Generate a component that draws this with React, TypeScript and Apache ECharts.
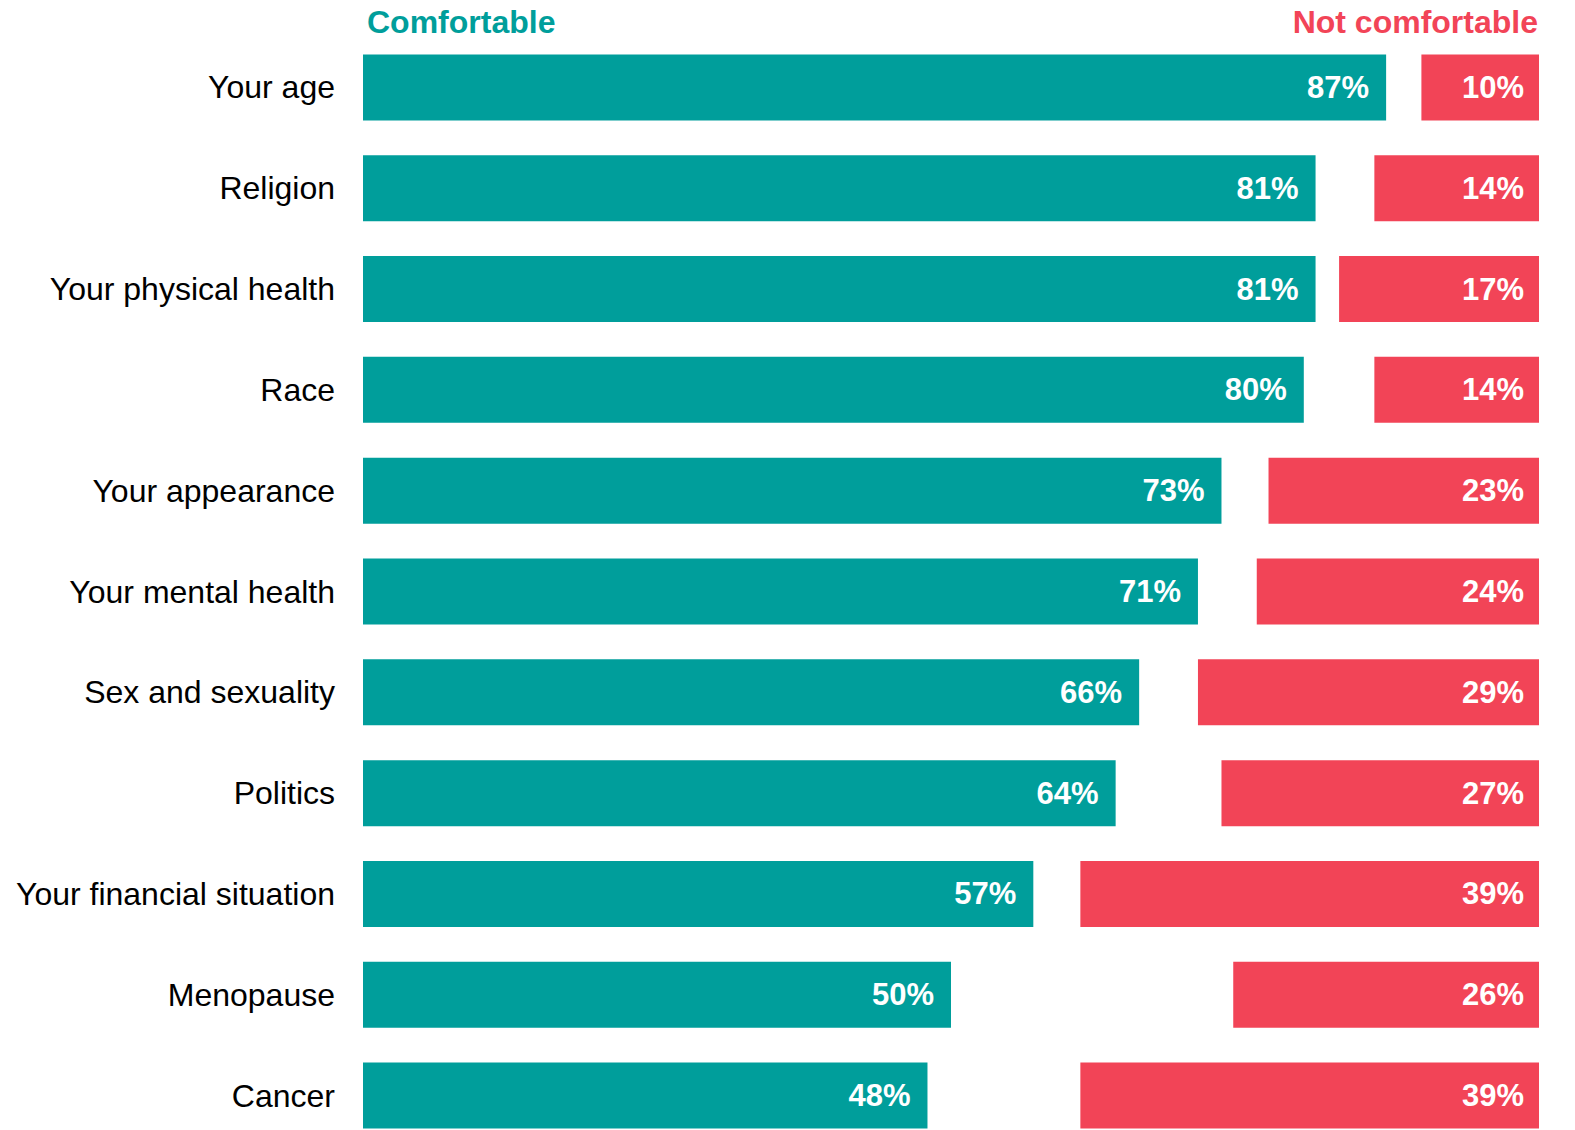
import React, { useEffect, useRef } from "react";
import * as echarts from "echarts";

const categories = [
  "Your age",
  "Religion",
  "Your physical health",
  "Race",
  "Your appearance",
  "Your mental health",
  "Sex and sexuality",
  "Politics",
  "Your financial situation",
  "Menopause",
  "Cancer",
];
const comfortable = [87, 81, 81, 80, 73, 71, 66, 64, 57, 50, 48];
const notComfortable = [10, 14, 17, 14, 23, 24, 29, 27, 39, 26, 39];

const TEAL = "#009E9B";
const RED = "#F24457";
const FONT = "Liberation Sans, Arial, sans-serif";

export default function App() {
  const ref = useRef<HTMLDivElement>(null);
  useEffect(() => {
    document.body.style.margin = "0";
    const chart = echarts.init(ref.current!, null, { renderer: "svg" });
    chart.setOption({
      animation: false,
      backgroundColor: "#ffffff",
      grid: {
        left: 363,
        right: 36,
        top: 37,
        height: 1109,
        containLabel: false,
        outerBoundsMode: "none",
      },
      graphic: [
        {
          type: "text",
          left: 367,
          top: 6,
          style: { text: "Comfortable", fill: TEAL, font: `bold 32px ${FONT}` },
        },
        {
          type: "text",
          right: 37,
          top: 6,
          style: { text: "Not comfortable", fill: RED, font: `bold 32px ${FONT}`, textAlign: "right" },
        },
      ],
      xAxis: [
        { type: "value", min: 0, max: 100, show: false },
        { type: "value", min: 0, max: 100, show: false, inverse: true },
      ],
      yAxis: {
        type: "category",
        data: categories,
        inverse: true,
        axisLine: { show: false },
        axisTick: { show: false },
        splitLine: { show: false },
        axisLabel: { color: "#000", fontSize: 32, fontFamily: FONT, margin: 28 },
      },
      series: [
        {
          type: "bar",
          name: "Comfortable",
          xAxisIndex: 0,
          data: comfortable,
          barWidth: 66,
          itemStyle: { color: TEAL },
          label: {
            show: true,
            position: "insideRight",
            distance: 17,
            color: "#fff",
            fontWeight: "bold",
            fontSize: 31,
            fontFamily: FONT,
            formatter: "{c}%",
          },
        },
        {
          type: "bar",
          name: "Not comfortable",
          xAxisIndex: 1,
          data: notComfortable,
          barWidth: 66,
          barGap: "-100%",
          itemStyle: { color: RED },
          label: {
            show: true,
            position: "insideRight",
            distance: 15,
            color: "#fff",
            fontWeight: "bold",
            fontSize: 31,
            fontFamily: FONT,
            formatter: "{c}%",
          },
        },
      ],
    });
    return () => chart.dispose();
  }, []);
  return <div ref={ref} style={{ width: 1575, height: 1130 }} />;
}
